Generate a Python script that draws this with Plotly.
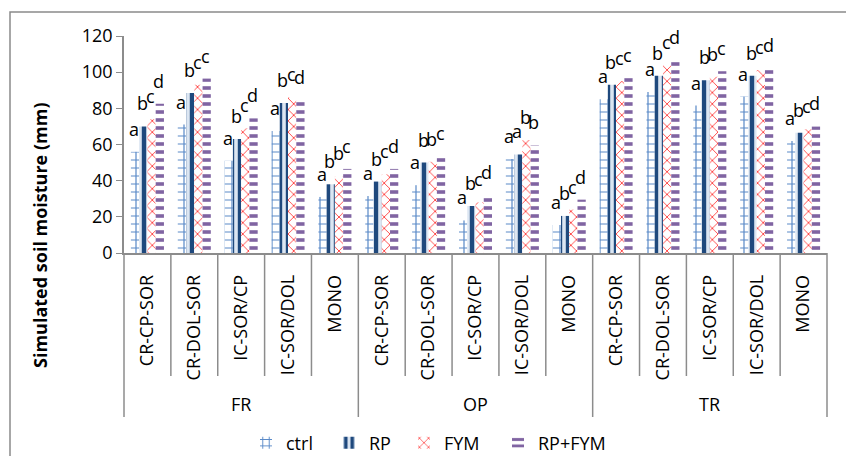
import plotly.graph_objects as go

groups = ["FR", "OP", "TR"]
systems = ["CR-CP-SOR", "CR-DOL-SOR", "IC-SOR/CP", "IC-SOR/DOL", "MONO"]

ctrl   = [56, 71, 51, 67.5, 31,   31.5, 37.5, 18, 52, 15.5,   85, 89, 81.5, 86.5, 62]
rp     = [70, 88.5, 63, 83, 38,   39.5, 50, 26, 54.5, 20.5,   93, 98, 95.5, 98, 66.5]
fym    = [74, 93, 69, 86, 42.5,   43.5, 50.5, 28, 62.5, 24,   95, 104, 97.5, 101, 68.5]
rp_fym = [82.5, 96.5, 74.5, 84.5, 46.5,   46.5, 53.5, 32, 59.5, 29.5,   97, 107, 100.5, 102.5, 70]

letters_ctrl   = ["a", "a", "a", "a", "a",  "a", "a", "a", "a", "a",  "a", "a", "a", "a", "a"]
letters_rp     = ["b", "b", "b", "b", "b",  "b", "b", "b", "a", "b",  "b", "b", "b", "b", "b"]
letters_fym    = ["c", "c", "c", "c", "b",  "c", "b", "c", "b", "c",  "c", "c", "b", "c", "c"]
letters_rp_fym = ["d", "c", "d", "d", "c",  "d", "c", "d", "b", "d",  "c", "d", "c", "d", "d"]

series_names = ["ctrl", "RP", "FYM", "RP+FYM"]

keys = [f"{g}|{s}" for g in groups for s in systems]
ticktext = [s for g in groups for s in systems]
n = len(keys)

FONT = "Open Sans"
GREY = "#8c8c8c"

styles = [
    dict(shape="+", fgcolor="#5A8AC8", bgcolor="white", size=8, solidity=0.28),
    dict(shape="|", fgcolor="#1F497D", bgcolor="#DCE6F2", size=8, solidity=0.55),
    dict(shape="x", fgcolor="#FF1A1A", bgcolor="white", size=8, solidity=0.18),
    dict(shape="-", fgcolor="#8064A2", bgcolor="white", size=8, solidity=0.45),
]

# legend symbol centres (pixels) for the four separate legend entries
legend_symbol_px = [265, 348, 423, 517]
legend_ids = ["legend", "legend2", "legend3", "legend4"]

fig = go.Figure()
all_vals = [ctrl, rp, fym, rp_fym]
for name, vals, st, lid in zip(series_names, all_vals, styles, legend_ids):
    fig.add_trace(go.Bar(
        name=name, x=keys, y=vals, legend=lid,
        marker=dict(color=st["bgcolor"], line=dict(width=0),
                    pattern=dict(shape=st["shape"], fgcolor=st["fgcolor"],
                                 bgcolor=st["bgcolor"], size=st["size"],
                                 solidity=st["solidity"], fillmode="replace")),
    ))

bargap = 0.295
w = (1 - bargap) / 4
annotations = []
all_letters = [letters_ctrl, letters_rp, letters_fym, letters_rp_fym]
for j, (vals, lets) in enumerate(zip(all_vals, all_letters)):
    for i in range(n):
        annotations.append(dict(
            x=i + (j - 1.5) * w, y=vals[i], xref="x", yref="y",
            text=lets[i], showarrow=False, yshift=23, xshift=-1,
            font=dict(family=FONT, size=18, color="black"),
            xanchor="center", yanchor="middle"))

# group labels and divider lines
shapes = []
sizes = [len(systems)] * len(groups)
start = 0
for g, sz in zip(groups, sizes):
    annotations.append(dict(
        x=(start + sz / 2) / n, y=(253 - 404) / 217, xref="paper", yref="paper",
        text=g, showarrow=False, font=dict(family=FONT, size=18, color="black"),
        xanchor="center", yanchor="middle"))
    start += sz

bounds_group = [0]
for sz in sizes:
    bounds_group.append(bounds_group[-1] + sz)
for k in range(n + 1):
    is_group = k in bounds_group
    shapes.append(dict(type="line", xref="paper", yref="paper",
                       x0=k / n, x1=k / n, y0=0,
                       y1=(253 - 417) / 217 if is_group else (253 - 376) / 217,
                       line=dict(color=GREY, width=1.5)))

# y-axis title
annotations.append(dict(
    x=(40 - 124) / 703, y=(253 - 236) / 217, xref="paper", yref="paper",
    text="<b>Simulated soil moisture (mm)</b>", showarrow=False, textangle=-90,
    font=dict(family=FONT, size=18, color="black"),
    xanchor="center", yanchor="middle"))

# outer chart border (cropped at right and bottom)
shapes.append(dict(type="rect", xref="paper", yref="paper",
                   x0=(10 - 124) / 703, x1=1.2, y0=-1.5, y1=(253 - 12) / 217,
                   line=dict(color="#8a8a8a", width=1.5), fillcolor="rgba(0,0,0,0)"))

legend_layouts = {}
for lid, px in zip(legend_ids, legend_symbol_px):
    legend_layouts[lid] = dict(
        orientation="h", x=(px - 19 - 124) / 703, xanchor="left",
        y=(253 - 443) / 217, yanchor="middle", bgcolor="rgba(0,0,0,0)",
        font=dict(family=FONT, size=18, color="black"))

fig.update_layout(
    width=846, height=456,
    margin=dict(l=124, r=19, t=36, b=203, autoexpand=False),
    paper_bgcolor="white", plot_bgcolor="white",
    barmode="group", bargap=bargap, bargroupgap=0,
    font=dict(family=FONT, size=18, color="black"),
    showlegend=True,
    annotations=annotations, shapes=shapes,
    **legend_layouts,
)
fig.update_xaxes(
    type="category", tickvals=keys, ticktext=ticktext, tickangle=-90,
    ticks="outside", ticklen=13, tickcolor="rgba(0,0,0,0)",
    showline=True, linecolor=GREY, linewidth=1.5, showgrid=False,
    tickfont=dict(family=FONT, size=18, color="black"), range=[-0.5, n - 0.5],
)
fig.update_yaxes(
    range=[0, 120], tickvals=[0, 20, 40, 60, 80, 100, 120],
    ticks="outside", ticklen=6, tickcolor=GREY,
    showline=True, linecolor=GREY, linewidth=1.5, showgrid=False, zeroline=False,
    tickfont=dict(family=FONT, size=18, color="black"),
)

fig.write_html("out.html", config={"displayModeBar": False},
               post_script="document.body.style.margin='0px';")
